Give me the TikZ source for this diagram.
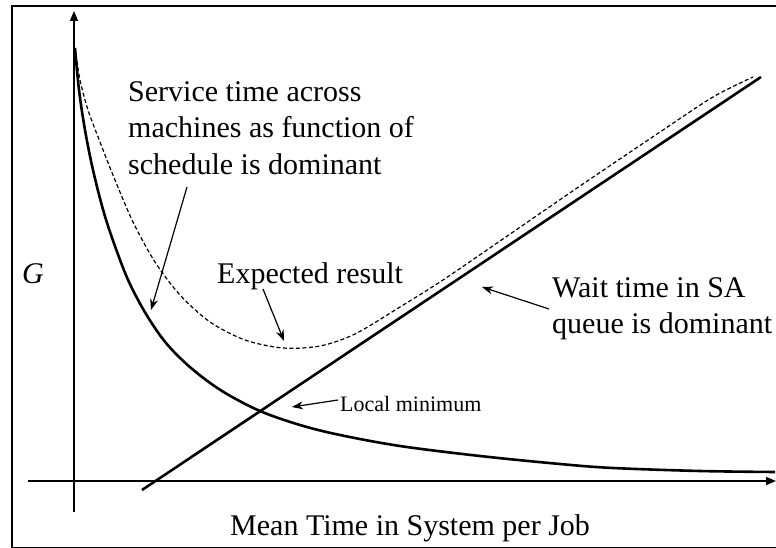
\documentclass[tikz,border=0pt]{standalone}
\usepackage{fontspec}
\setmainfont{Liberation Serif}
\usetikzlibrary{arrows.meta}
\begin{document}
\begin{tikzpicture}[x=1pt,y=-1pt,
  lbl/.style={inner sep=0pt,anchor=base west,font=\fontsize{30}{36}\selectfont},
  smalllbl/.style={inner sep=0pt,anchor=base west,font=\fontsize{22}{26}\selectfont},
  axis/.style={line width=1.4pt,-{Triangle[length=10pt,width=8pt]}},
  curve/.style={line width=2.6pt},
  dcurve/.style={line width=1.2pt,dash pattern=on 4pt off 2.5pt},
  pointer/.style={line width=1.2pt,-{Stealth[length=11pt,width=8pt]}},
  frame/.style={line width=1.8pt}]
\useasboundingbox (0,0) rectangle (776,548);
% frame
\draw[frame] (12,548) -- (12,6) -- (776,6);
\draw[line width=0.8pt] (12,547) -- (776,547);
% axes
\coordinate (ybot) at (74,512);
\coordinate (ytop) at (74,11);
\coordinate (xleft) at (28,481);
\coordinate (xright) at (776,481);
\draw[axis] (ybot) -- (ytop);
\draw[axis] (xleft) -- (xright);
% service time curve
\draw[curve] plot[smooth,tension=0.55] coordinates {(75,48) (79,90) (85,130) (93,170) (104,213) (116,249) (129,282) (146,314) (166,343) (191,368) (222,391) (260,411) (300,425) (340,435) (400,446) (480,456) (560,464) (613,468) (700,471) (775,472)};
% wait time line
\coordinate (wstart) at (142,490);
\coordinate (wend) at (761,77);
\draw[curve] (wstart) -- (wend);
% expected result (dashed)
\draw[dcurve] plot[smooth,tension=0.5] coordinates {(75,48) (80,80) (88,110) (100,142) (115,180) (133,222) (155,262) (180,295) (210,322) (245,340) (283,348) (320,346) (355,334) (400,307) (443,280) (500,241) (580,186) (660,132) (713,97) (753,77)};
% labels
\node[lbl] (s1) at (128,102) {Service time across};
\node[lbl] (s2) at (128,138) {machines as function of};
\node[lbl] (s3) at (128,175) {schedule is dominant};
\node[lbl] (g) at (22,283) {\itshape G};
\node[lbl] (exp) at (217,283) {Expected result};
\node[lbl] (w1) at (552,297) {Wait time in SA};
\node[lbl] (w2) at (552,333) {queue is dominant};
\node[smalllbl] (loc) at (340,411) {Local minimum};
\node[lbl] (xl) at (230,535) {Mean Time in System per Job};
% pointers
\coordinate (sA) at (187,187);
\coordinate (sB) at (151,310);
\draw[pointer] (sA) -- (sB);
\coordinate (eA) at (263,289);
\coordinate (eB) at (284,341);
\draw[pointer] (eA) -- (eB);
\coordinate (wA) at (549,309);
\coordinate (wB) at (482,287);
\draw[pointer] (wA) -- (wB);
\coordinate (lA) at (338,400);
\coordinate (lB) at (292,407);
\draw[pointer] (lA) -- (lB);
\end{tikzpicture}
\end{document}
